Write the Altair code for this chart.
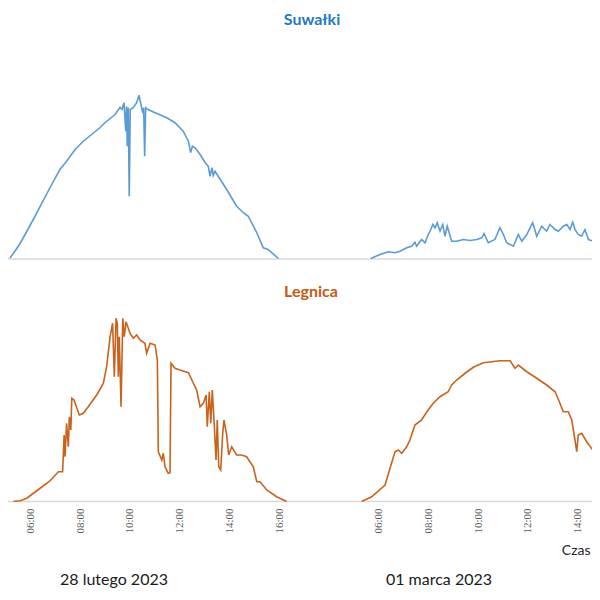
import altair as alt
import pandas as pd

# ---- data (hours of day, irradiance-like values) ----
suw_d1_h = [5.17, 5.37, 5.58, 6.11, 6.78, 7.18, 7.45, 7.79, 8.12, 8.79, 8.99, 9.40, 9.60, 9.68, 9.76, 9.83,
            9.86, 9.89, 9.93, 9.97, 10.01, 10.13, 10.27, 10.36, 10.44, 10.50, 10.55, 10.59, 10.63, 10.72,
            11.01, 11.48, 11.81, 12.14, 12.35, 12.44, 12.51, 12.62, 12.82, 13.02, 13.15, 13.22, 13.30,
            13.35, 13.42, 13.89, 14.29, 14.56, 14.76, 15.10, 15.36, 15.55, 15.97]
suw_d1_v = [4, 31, 62, 158, 285, 358, 391, 438, 471, 525, 545, 578, 607, 598, 625, 511, 610, 451, 606, 251,
            598, 605, 625, 655, 618, 591, 605, 411, 605, 598, 585, 565, 545, 511, 471, 426, 451, 445, 418,
            386, 371, 331, 365, 334, 351, 278, 211, 185, 171, 105, 45, 38, 2]

suw_d2_h = [5.68, 6.06, 6.39, 6.66, 6.86, 7.13, 7.33, 7.46, 7.53, 7.73, 7.87, 8.00, 8.10, 8.18, 8.27, 8.36,
            8.47, 8.58, 8.67, 8.76, 8.94, 9.14, 9.41, 9.68, 9.95, 10.15, 10.24, 10.41, 10.68, 10.88, 11.02,
            11.15, 11.42, 11.62, 11.76, 11.96, 12.20, 12.36, 12.56, 12.76, 12.89, 13.10, 13.23, 13.43,
            13.57, 13.70, 13.81, 13.90, 14.03, 14.17, 14.30, 14.44, 14.64, 14.92]
suw_d2_v = [2, 18, 29, 25, 31, 45, 51, 67, 51, 78, 65, 98, 118, 138, 125, 145, 111, 138, 91, 131, 71, 71, 78,
            74, 78, 85, 102, 65, 78, 125, 98, 65, 51, 98, 71, 98, 145, 91, 131, 111, 138, 118, 111, 131, 138,
            118, 147, 118, 98, 91, 118, 78, 71, 54]

leg_d1_h = [5.31, 5.58, 5.85, 6.25, 6.78, 7.12, 7.29, 7.35, 7.39, 7.45, 7.52, 7.56, 7.62, 7.66, 7.75, 7.96,
            8.12, 8.32, 8.66, 8.93, 9.06, 9.20, 9.30, 9.37, 9.44, 9.49, 9.53, 9.57, 9.64, 9.71, 9.77, 9.84,
            10.00, 10.13, 10.27, 10.40, 10.60, 10.67, 10.81, 11.01, 11.10, 11.14, 11.28, 11.34, 11.41,
            11.54, 11.61, 11.65, 11.81, 12.01, 12.35, 12.55, 12.68, 12.82, 12.95, 13.06, 13.11, 13.19,
            13.25, 13.31, 13.38, 13.46, 13.51, 13.57, 13.65, 13.73, 13.78, 13.89, 13.97, 14.09, 14.29,
            14.49, 14.69, 14.96, 15.10, 15.23, 15.50, 15.90, 16.30]
leg_d1_v = [0, 3, 13, 43, 82, 119, 119, 266, 179, 313, 219, 339, 286, 413, 406, 346, 353, 379, 426, 473,
            539, 659, 713, 499, 733, 713, 499, 659, 379, 733, 659, 719, 673, 653, 666, 646, 633, 593, 633,
            626, 566, 199, 166, 193, 139, 113, 115, 553, 533, 526, 515, 473, 446, 379, 393, 426, 299, 439,
            313, 446, 326, 166, 326, 139, 126, 273, 326, 266, 186, 219, 186, 186, 179, 139, 79, 79, 46, 19, 0]

leg_d2_h = [5.32, 5.72, 6.26, 6.46, 6.66, 6.79, 6.93, 7.13, 7.26, 7.46, 7.73, 7.94, 8.20, 8.47, 8.80, 8.94,
            9.14, 9.48, 9.81, 10.21, 10.55, 10.88, 11.29, 11.49, 11.62, 11.96, 12.36, 12.76, 13.10, 13.27,
            13.43, 13.63, 13.77, 13.90, 13.97, 14.03, 14.17, 14.37, 14.71, 14.91]
leg_d2_v = [0, 19, 66, 133, 199, 206, 193, 219, 246, 306, 326, 359, 393, 419, 439, 466, 486, 513, 537, 555,
            559, 563, 563, 533, 546, 519, 493, 466, 439, 399, 359, 359, 326, 246, 199, 266, 273, 239, 193, 159]

day1_ticks = [6, 8, 10, 12, 14, 16]
day2_ticks = [6, 8, 10, 12, 14]
day_labels = ["28 lutego 2023", "01 marca 2023"]
titles = ["Suwałki", "Legnica"]
axis_title = "Czas"

DAY2_SHIFT = 14  # night hours removed between the two days on the axis


def frame(h, v, day):
    shift = 0 if day == 1 else DAY2_SHIFT
    return pd.DataFrame({"pos": [x + shift for x in h], "val": v, "day": day})


suw = pd.concat([frame(suw_d1_h, suw_d1_v, 1), frame(suw_d2_h, suw_d2_v, 2)], ignore_index=True)
leg = pd.concat([frame(leg_d1_h, leg_d1_v, 1), frame(leg_d2_h, leg_d2_v, 2)], ignore_index=True)
zero = pd.DataFrame({"val": [0]})

W, H = 584, 494
xs = alt.Scale(domain=[5.093, 28.584], nice=False, zero=False)
top_y = alt.Scale(domain=[0, 800], range=[251, 51], nice=False, zero=False)
bot_y = alt.Scale(domain=[0, 800], range=[493.5, 293.5], nice=False, zero=False)

tick_pos = day1_ticks + [t + DAY2_SHIFT for t in day2_ticks]
label_expr = ("(datum.value < 19 ? ((datum.value < 10 ? '0' : '') + datum.value) : "
              "((datum.value - 14 < 10 ? '0' : '') + (datum.value - 14))) + ':00'")

x_axis = alt.Axis(values=tick_pos, labelExpr=label_expr, labelAngle=270, labelFont="Liberation Serif",
                  labelFontSize=11, labelColor="#595959", labelPadding=6, ticks=False, tickSize=0,
                  domain=False, grid=False, title=axis_title, titleX=582, titleY=48, titleAlign="right",
                  titleBaseline="middle", titleFont="Lato", titleFontSize=14, titleFontWeight="normal",
                  titleColor="#262626", labelOverlap=False)

top_base = alt.Chart(zero).mark_rule(color="#D9D9D9", strokeWidth=1.5).encode(
    y=alt.Y("val:Q", scale=top_y, axis=None), x=alt.value(0), x2=alt.value(W))
top_line = alt.Chart(suw).mark_line(color="#5B9BD5", strokeWidth=1.6, clip=True).encode(
    x=alt.X("pos:Q", scale=xs, axis=x_axis),
    y=alt.Y("val:Q", scale=top_y, axis=None),
    detail="day:N")

bot_base = alt.Chart(zero).mark_rule(color="#D9D9D9", strokeWidth=1.5).encode(
    y=alt.Y("val:Q", scale=bot_y, axis=None), x=alt.value(0), x2=alt.value(W))
bot_line = alt.Chart(leg).mark_line(color="#C8621C", strokeWidth=1.6, clip=True).encode(
    x=alt.X("pos:Q", scale=xs, axis=x_axis),
    y=alt.Y("val:Q", scale=bot_y, axis=None),
    detail="day:N")

top = alt.layer(top_base, top_line)
bot = alt.layer(bot_base, bot_line)


def text_mark(txt, x, y, size, color, weight="normal"):
    return alt.Chart(pd.DataFrame({"t": [txt]})).mark_text(
        font="Lato", fontSize=size, fontWeight=weight, color=color, align="center", baseline="middle"
    ).encode(text="t:N", x=alt.value(x), y=alt.value(y))


t1 = text_mark(titles[0], 304, 12, 16, "#1E78C8", "bold")
t2 = text_mark(titles[1], 303, 284, 16, "#C55A11", "bold")
d1 = text_mark(day_labels[0], 106, 572, 16, "#1a1a1a")
d2 = text_mark(day_labels[1], 431, 572, 16, "#1a1a1a")

chart = alt.layer(top, bot, t1, t2, d1, d2).resolve_scale(y="independent").properties(
    width=W, height=H,
    autosize=alt.AutoSizeParams(type="none"),
    padding={"left": 0, "top": 0, "right": 0, "bottom": 90},
).configure_view(stroke=None)

chart.save("out.html", embed_options={"renderer": "svg", "actions": False})
